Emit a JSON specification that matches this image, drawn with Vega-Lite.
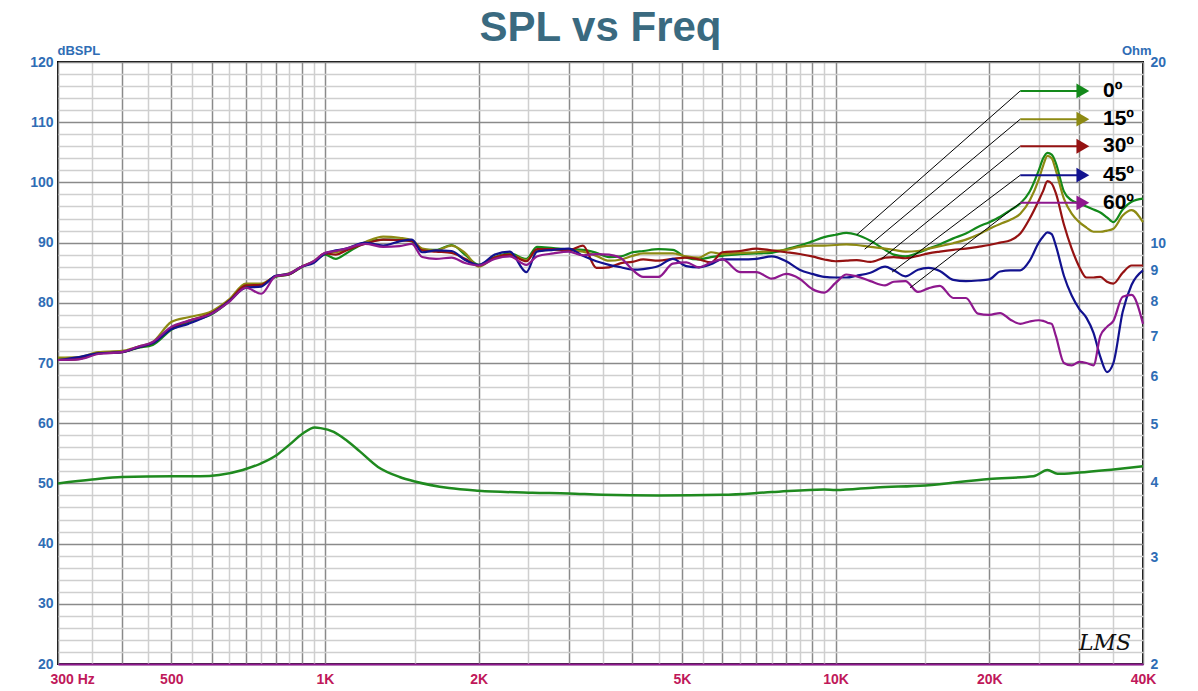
{
  "$schema": "https://vega.github.io/schema/vega-lite/v6.json",
  "width": 1085,
  "height": 602,
  "autosize": {"type": "none"},
  "padding": {"left": 58, "top": 62, "right": 55, "bottom": 27},
  "background": "white",
  "title": {"text": "SPL vs Freq", "font": "Liberation Sans", "fontSize": 42, "fontWeight": "bold", "color": "#3a6a80", "anchor": "middle", "frame": "group", "offset": -6},
  "config": {
    "view": {"stroke": "#000000", "strokeWidth": 2},
    "axis": {"labelFont": "Liberation Sans", "titleFont": "Liberation Sans"}
  },
  "datasets": {
    "spl": [
      {"f":300,"s0":70.6,"s15":70.9,"s30":70.5,"s45":70.5,"s60":70.5},
      {"f":330,"s0":70.7,"s15":71.0,"s30":70.7,"s45":71.0,"s60":70.6},
      {"f":360,"s0":71.6,"s15":71.8,"s30":71.6,"s45":71.6,"s60":71.5},
      {"f":400,"s0":71.8,"s15":72.0,"s30":71.8,"s45":71.8,"s60":71.8},
      {"f":430,"s0":72.5,"s15":72.7,"s30":72.6,"s45":72.6,"s60":72.7},
      {"f":460,"s0":73.0,"s15":73.5,"s30":73.3,"s45":73.3,"s60":73.5},
      {"f":500,"s0":75.5,"s15":76.8,"s30":75.8,"s45":75.6,"s60":76.0},
      {"f":540,"s0":76.8,"s15":77.6,"s30":77.0,"s45":76.5,"s60":77.0},
      {"f":600,"s0":78.1,"s15":78.6,"s30":78.3,"s45":78.2,"s60":78.2},
      {"f":650,"s0":80.3,"s15":80.6,"s30":80.4,"s45":80.3,"s60":80.2},
      {"f":700,"s0":82.8,"s15":83.2,"s30":82.9,"s45":82.5,"s60":82.5},
      {"f":750,"s0":83.0,"s15":83.2,"s30":83.0,"s45":82.7,"s60":81.5},
      {"f":800,"s0":84.3,"s15":84.4,"s30":84.4,"s45":84.5,"s60":84.4},
      {"f":850,"s0":84.7,"s15":84.9,"s30":84.7,"s45":84.8,"s60":84.8},
      {"f":900,"s0":85.9,"s15":86.0,"s30":86.0,"s45":86.0,"s60":86.0},
      {"f":950,"s0":86.8,"s15":86.9,"s30":86.8,"s45":86.6,"s60":86.9},
      {"f":1000,"s0":88.0,"s15":88.2,"s30":88.2,"s45":88.2,"s60":88.3},
      {"f":1050,"s0":87.3,"s15":88.4,"s30":88.0,"s45":88.7,"s60":88.6},
      {"f":1100,"s0":88.2,"s15":88.8,"s30":88.7,"s45":89.0,"s60":89.0},
      {"f":1200,"s0":90.0,"s15":90.1,"s30":89.8,"s45":90.0,"s60":89.8},
      {"f":1300,"s0":90.5,"s15":91.0,"s30":90.5,"s45":89.5,"s60":89.3},
      {"f":1400,"s0":90.5,"s15":90.8,"s30":90.4,"s45":90.2,"s60":89.4},
      {"f":1480,"s0":90.2,"s15":90.4,"s30":90.3,"s45":90.5,"s60":89.8},
      {"f":1550,"s0":88.8,"s15":89.0,"s30":88.7,"s45":88.4,"s60":87.6},
      {"f":1650,"s0":88.8,"s15":88.7,"s30":88.5,"s45":88.7,"s60":87.3},
      {"f":1770,"s0":89.6,"s15":89.5,"s30":88.3,"s45":88.6,"s60":87.5},
      {"f":1880,"s0":88.0,"s15":88.3,"s30":87.3,"s45":87.1,"s60":86.6},
      {"f":2000,"s0":86.3,"s15":86.0,"s30":86.2,"s45":86.3,"s60":86.2},
      {"f":2150,"s0":87.6,"s15":87.5,"s30":87.5,"s45":88.0,"s60":87.3},
      {"f":2300,"s0":88.2,"s15":88.0,"s30":88.0,"s45":88.5,"s60":87.7},
      {"f":2480,"s0":87.3,"s15":87.1,"s30":86.9,"s45":85.1,"s60":86.3},
      {"f":2600,"s0":89.3,"s15":88.7,"s30":88.9,"s45":88.5,"s60":87.7},
      {"f":2800,"s0":89.1,"s15":88.8,"s30":88.9,"s45":88.8,"s60":88.2},
      {"f":3000,"s0":88.9,"s15":88.7,"s30":88.7,"s45":89.0,"s60":88.5},
      {"f":3200,"s0":88.8,"s15":88.5,"s30":89.5,"s45":87.8,"s60":87.9},
      {"f":3400,"s0":88.3,"s15":87.8,"s30":85.8,"s45":86.9,"s60":88.1},
      {"f":3600,"s0":87.6,"s15":87.0,"s30":85.9,"s45":86.3,"s60":88.0},
      {"f":3800,"s0":87.7,"s15":87.2,"s30":86.6,"s45":85.9,"s60":87.4},
      {"f":4000,"s0":88.4,"s15":87.8,"s30":86.8,"s45":85.5,"s60":85.5},
      {"f":4200,"s0":88.6,"s15":88.2,"s30":87.2,"s45":85.6,"s60":84.3},
      {"f":4500,"s0":88.9,"s15":88.2,"s30":87.0,"s45":86.1,"s60":84.3},
      {"f":4800,"s0":88.8,"s15":88.2,"s30":87.3,"s45":87.3,"s60":86.5},
      {"f":5100,"s0":87.5,"s15":87.7,"s30":87.5,"s45":86.1,"s60":86.7},
      {"f":5400,"s0":87.2,"s15":87.5,"s30":87.2,"s45":85.9,"s60":85.9},
      {"f":5700,"s0":87.6,"s15":88.4,"s30":86.7,"s45":86.4,"s60":86.7},
      {"f":6000,"s0":87.8,"s15":88.1,"s30":88.4,"s45":87.2,"s60":87.2},
      {"f":6500,"s0":88.1,"s15":88.3,"s30":88.6,"s45":87.2,"s60":85.1},
      {"f":7000,"s0":88.2,"s15":88.4,"s30":89.0,"s45":87.3,"s60":85.1},
      {"f":7500,"s0":88.3,"s15":88.6,"s30":88.7,"s45":87.7,"s60":84.0},
      {"f":8000,"s0":88.9,"s15":88.8,"s30":88.4,"s45":86.9,"s60":84.8},
      {"f":8500,"s0":89.5,"s15":89.3,"s30":88.1,"s45":85.5,"s60":84.0},
      {"f":9000,"s0":90.2,"s15":89.5,"s30":87.7,"s45":84.8,"s60":82.3},
      {"f":9500,"s0":90.9,"s15":89.5,"s30":87.2,"s45":84.3,"s60":81.7},
      {"f":10000,"s0":91.3,"s15":89.6,"s30":86.9,"s45":84.2,"s60":83.3},
      {"f":10500,"s0":91.6,"s15":89.7,"s30":87.0,"s45":84.2,"s60":84.7},
      {"f":11000,"s0":91.3,"s15":89.6,"s30":87.1,"s45":84.5,"s60":84.4},
      {"f":11700,"s0":90.3,"s15":89.3,"s30":86.8,"s45":85.0,"s60":83.6},
      {"f":12500,"s0":88.8,"s15":89.0,"s30":87.5,"s45":86.0,"s60":82.9},
      {"f":13000,"s0":88.0,"s15":88.8,"s30":87.6,"s45":85.4,"s60":83.5},
      {"f":13700,"s0":87.7,"s15":88.5,"s30":87.4,"s45":84.4,"s60":83.6},
      {"f":14500,"s0":88.3,"s15":88.6,"s30":87.8,"s45":85.5,"s60":81.8},
      {"f":15200,"s0":89.0,"s15":89.0,"s30":88.2,"s45":85.8,"s60":82.4},
      {"f":16000,"s0":89.7,"s15":89.4,"s30":88.5,"s45":85.3,"s60":82.8},
      {"f":17000,"s0":90.7,"s15":89.9,"s30":88.8,"s45":83.8,"s60":80.8},
      {"f":18000,"s0":91.5,"s15":90.5,"s30":89.0,"s45":83.6,"s60":80.8},
      {"f":19000,"s0":92.6,"s15":91.3,"s30":89.3,"s45":83.7,"s60":78.2},
      {"f":20000,"s0":93.4,"s15":92.3,"s30":89.6,"s45":83.9,"s60":78.0},
      {"f":21000,"s0":94.3,"s15":93.1,"s30":90.0,"s45":85.2,"s60":78.3},
      {"f":22000,"s0":95.4,"s15":93.8,"s30":90.4,"s45":85.4,"s60":77.2},
      {"f":23000,"s0":96.5,"s15":94.8,"s30":91.5,"s45":85.4,"s60":76.5},
      {"f":24000,"s0":98.5,"s15":97.0,"s30":94.0,"s45":87.0,"s60":76.9},
      {"f":25000,"s0":102.0,"s15":100.5,"s30":97.0,"s45":90.0,"s60":77.1},
      {"f":25500,"s0":104.0,"s15":102.8,"s30":98.6,"s45":91.0,"s60":77.0},
      {"f":26000,"s0":104.9,"s15":104.4,"s30":100.2,"s45":91.7,"s60":76.7},
      {"f":26500,"s0":104.6,"s15":104.0,"s30":99.8,"s45":91.4,"s60":76.5},
      {"f":27000,"s0":103.2,"s15":102.0,"s30":98.2,"s45":89.5,"s60":74.5},
      {"f":28000,"s0":98.5,"s15":97.3,"s30":93.0,"s45":84.5,"s60":70.0},
      {"f":29000,"s0":97.0,"s15":94.8,"s30":89.0,"s45":81.2,"s60":69.6},
      {"f":30000,"s0":96.5,"s15":93.4,"s30":86.0,"s45":79.0,"s60":70.2},
      {"f":31000,"s0":96.0,"s15":92.5,"s30":84.2,"s45":77.5,"s60":70.0},
      {"f":32000,"s0":95.5,"s15":91.8,"s30":84.2,"s45":75.0,"s60":69.6},
      {"f":33000,"s0":95.0,"s15":91.8,"s30":84.3,"s45":71.0,"s60":74.5},
      {"f":34000,"s0":94.2,"s15":92.0,"s30":83.5,"s45":68.5,"s60":76.0},
      {"f":35000,"s0":93.4,"s15":92.3,"s30":83.2,"s45":70.0,"s60":77.0},
      {"f":36500,"s0":95.5,"s15":94.5,"s30":85.0,"s45":78.5,"s60":81.0},
      {"f":38000,"s0":96.8,"s15":95.4,"s30":86.2,"s45":83.0,"s60":81.3},
      {"f":40000,"s0":97.3,"s15":93.4,"s30":86.2,"s45":85.4,"s60":76.5}
    ],
    "imp": [
      {"f":300,"ohm":3.99},{"f":350,"ohm":4.05},{"f":400,"ohm":4.09},{"f":500,"ohm":4.10},
      {"f":570,"ohm":4.10},{"f":620,"ohm":4.12},{"f":690,"ohm":4.20},{"f":750,"ohm":4.31},
      {"f":805,"ohm":4.45},{"f":850,"ohm":4.62},{"f":905,"ohm":4.83},{"f":955,"ohm":4.94},
      {"f":980,"ohm":4.93},{"f":1040,"ohm":4.86},{"f":1100,"ohm":4.71},{"f":1170,"ohm":4.51},
      {"f":1270,"ohm":4.25},{"f":1400,"ohm":4.09},{"f":1500,"ohm":4.02},{"f":1750,"ohm":3.92},
      {"f":2000,"ohm":3.88},{"f":2550,"ohm":3.85},{"f":3000,"ohm":3.84},{"f":3500,"ohm":3.82},
      {"f":4500,"ohm":3.81},{"f":6000,"ohm":3.82},{"f":7500,"ohm":3.86},{"f":9500,"ohm":3.90},
      {"f":10000,"ohm":3.89},{"f":12000,"ohm":3.93},{"f":15000,"ohm":3.96},{"f":20000,"ohm":4.06},
      {"f":24400,"ohm":4.10},{"f":26000,"ohm":4.20},{"f":27200,"ohm":4.14},{"f":30000,"ohm":4.16},
      {"f":35000,"ohm":4.21},{"f":40000,"ohm":4.26}
    ],
    "leg": [
      {"k":"s0","lab":"0º","f1":11000,"d1":91.3,"fa":23000,"fh":30500,"ft":33400,"dl":115.2},
      {"k":"s15","lab":"15º","f1":11400,"d1":88.9,"fa":23000,"fh":30500,"ft":33400,"dl":110.5},
      {"k":"s30","lab":"30º","f1":12300,"d1":87.3,"fa":23000,"fh":30500,"ft":33400,"dl":106.0},
      {"k":"s45","lab":"45º","f1":12900,"d1":85.1,"fa":23000,"fh":30500,"ft":33400,"dl":101.2},
      {"k":"s60","lab":"60º","f1":14000,"d1":82.5,"fa":23000,"fh":30500,"ft":33400,"dl":96.6}
    ]
  },
  "layer": [
    {
      "data": {"name": "spl"},
      "transform": [{"fold": ["s0","s15","s30","s45","s60"], "as": ["k","spl"]}],
      "mark": {"type": "line", "strokeWidth": 2.2, "interpolate": "monotone"},
      "encoding": {
        "x": {"field": "f", "type": "quantitative",
          "scale": {"type": "log", "domain": [300, 40000], "nice": false},
          "axis": {
            "title": null,
            "values": [300,350,400,450,500,550,600,650,700,750,800,850,900,950,1000,1500,2000,2500,3000,3500,4000,4500,5000,5500,6000,6500,7000,7500,8000,8500,9000,9500,10000,15000,20000,25000,30000,35000,40000],
            "labelExpr": "datum.value===300?'300 Hz':datum.value===500?'500':datum.value===1000?'1K':datum.value===2000?'2K':datum.value===5000?'5K':datum.value===10000?'10K':datum.value===20000?'20K':datum.value===40000?'40K':''",
            "ticks": false,
            "domainColor": "#8e188e",
            "domainWidth": 2,
            "labelColor": "#c0185a",
            "labelFontWeight": "bold",
            "labelFontSize": 14,
            "labelPadding": 8,
            "labelFlush": false,
            "labelOverlap": false,
            "labelAlign": {"condition": {"test": "datum.value===300", "value": "left"}, "value": "center"},
            "labelOffset": {"condition": {"test": "datum.value===300", "value": -8}, "value": 0},
            "gridColor": {"condition": {"test": "datum.value<1000 ? datum.value%100===0 : (datum.value<10000 ? datum.value%1000===0 : datum.value%10000===0)", "value": "#8a8a8a"}, "value": "#cfcfcf"},
            "gridWidth": 1.5
          }
        },
        "y": {"field": "spl", "type": "quantitative",
          "scale": {"domain": [20, 120], "nice": false, "zero": false},
          "axis": {
            "values": [20,22,24,26,28,30,32,34,36,38,40,42,44,46,48,50,52,54,56,58,60,62,64,66,68,70,72,74,76,78,80,82,84,86,88,90,92,94,96,98,100,102,104,106,108,110,112,114,116,118,120],
            "labelExpr": "datum.value%10===0 ? datum.label : ''",
            "ticks": false,
            "domain": false,
            "labelColor": "#2f6db5",
            "labelFontWeight": "bold",
            "labelFontSize": 14,
            "labelPadding": 5,
            "gridColor": {"condition": {"test": "datum.value%10===0", "value": "#8a8a8a"}, "value": "#cfcfcf"},
            "gridWidth": 1.5,
            "title": "dBSPL",
            "titleColor": "#2f6db5",
            "titleFontSize": 13,
            "titleFontWeight": "bold",
            "titleAngle": 0,
            "titleAlign": "left",
            "titleBaseline": "alphabetic",
            "titleX": -1,
            "titleY": -8
          }
        },
        "color": {"field": "k", "type": "nominal",
          "scale": {"domain": ["s0","s15","s30","s45","s60"], "range": ["#13891a","#8d8a13","#951212","#12128f","#8e188e"]},
          "legend": null}
      }
    },
    {
      "data": {"name": "imp"},
      "mark": {"type": "line", "strokeWidth": 2.5, "color": "#1f8a1f", "interpolate": "monotone"},
      "encoding": {
        "x": {"field": "f", "type": "quantitative"},
        "y": {"field": "ohm", "type": "quantitative",
          "scale": {"type": "log", "domain": [2, 20], "nice": false},
          "axis": {
            "orient": "right",
            "values": [2,3,4,5,6,7,8,9,10,20],
            "format": "d",
            "grid": false,
            "ticks": false,
            "domain": false,
            "labelColor": "#2f6db5",
            "labelFontWeight": "bold",
            "labelFontSize": 14,
            "labelPadding": 7,
            "title": "Ohm",
            "titleColor": "#2f6db5",
            "titleFontSize": 13,
            "titleFontWeight": "bold",
            "titleAngle": 0,
            "titleAlign": "right",
            "titleBaseline": "alphabetic",
            "titleX": 8,
            "titleY": -8
          }
        }
      }
    },
    {
      "data": {"name": "leg"},
      "mark": {"type": "rule", "color": "#000000", "strokeWidth": 1},
      "encoding": {
        "x": {"field": "f1", "type": "quantitative"},
        "x2": {"field": "fa"},
        "y": {"field": "d1", "type": "quantitative", "scale": {"domain": [20, 120], "nice": false, "zero": false}, "axis": null},
        "y2": {"field": "dl"}
      }
    },
    {
      "data": {"name": "leg"},
      "mark": {"type": "rule", "strokeWidth": 2},
      "encoding": {
        "x": {"field": "fa", "type": "quantitative"},
        "x2": {"field": "fh"},
        "y": {"field": "dl", "type": "quantitative", "scale": {"domain": [20, 120], "nice": false, "zero": false}, "axis": null},
        "color": {"field": "k", "type": "nominal", "legend": null}
      }
    },
    {
      "data": {"name": "leg"},
      "mark": {"type": "point", "shape": "triangle-right", "filled": true, "size": 220, "opacity": 1},
      "encoding": {
        "x": {"field": "fh", "type": "quantitative"},
        "y": {"field": "dl", "type": "quantitative", "scale": {"domain": [20, 120], "nice": false, "zero": false}, "axis": null},
        "color": {"field": "k", "type": "nominal", "legend": null}
      }
    },
    {
      "data": {"name": "leg"},
      "mark": {"type": "text", "align": "left", "baseline": "middle", "font": "Liberation Sans", "fontSize": 21, "fontWeight": "bold", "color": "#000000"},
      "encoding": {
        "x": {"field": "ft", "type": "quantitative"},
        "y": {"field": "dl", "type": "quantitative", "scale": {"domain": [20, 120], "nice": false, "zero": false}, "axis": null},
        "text": {"field": "lab"}
      }
    },
    {
      "data": {"values": [{"f": 33700, "d": 23.5, "t": "LMS"}]},
      "mark": {"type": "text", "align": "center", "baseline": "middle", "font": "DejaVu Serif", "fontSize": 22, "fontStyle": "italic", "color": "#111111"},
      "encoding": {
        "x": {"field": "f", "type": "quantitative"},
        "y": {"field": "d", "type": "quantitative", "scale": {"domain": [20, 120], "nice": false, "zero": false}, "axis": null},
        "text": {"field": "t"}
      }
    }
  ],
  "resolve": {"scale": {"y": "independent"}}
}
